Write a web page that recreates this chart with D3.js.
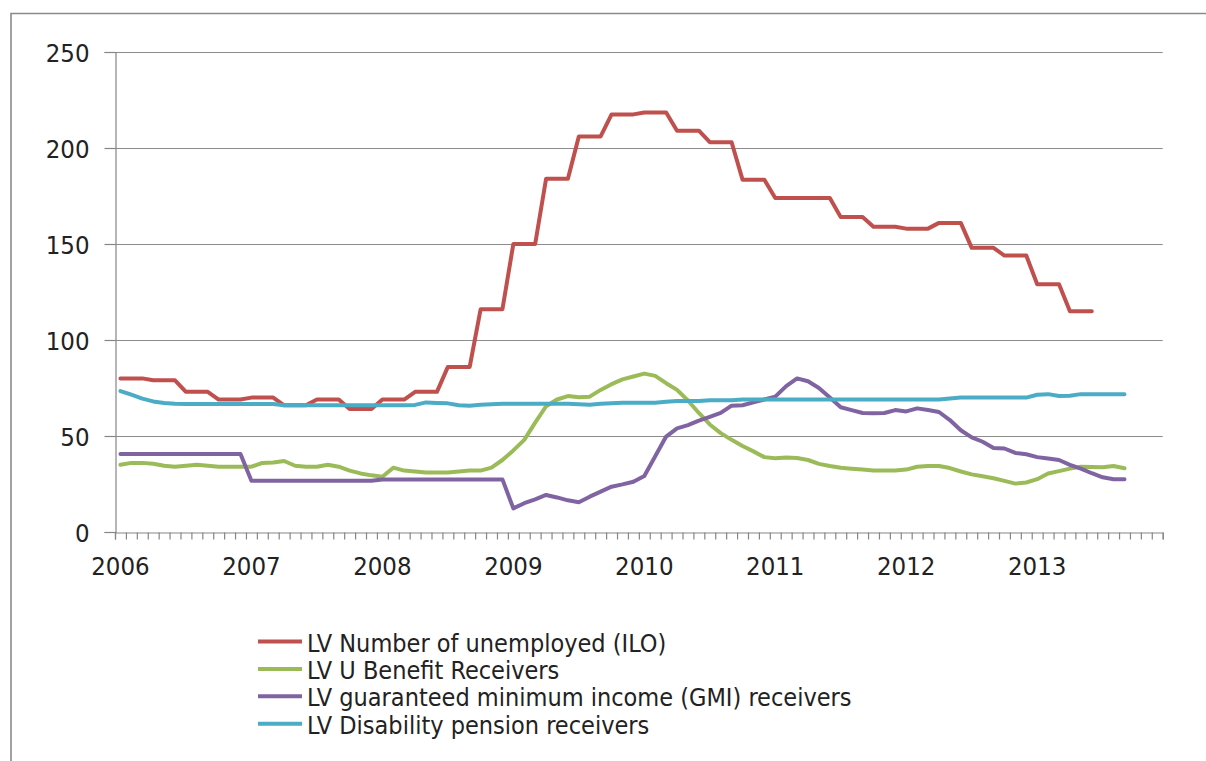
<!DOCTYPE html>
<html>
<head>
<meta charset="utf-8">
<script src="https://cdn.jsdelivr.net/npm/d3@7"></script>
<style>
  html, body { margin: 0; padding: 0; background: #fff; }
  svg { display: block; }
  text { font-family: "Liberation Sans Narrow", "DejaVu Sans Condensed", "Open Sans", sans-serif; fill: #222; }
</style>
</head>
<body>
<svg id="chart" width="1206" height="761"></svg>
<script>
// ---------- DATA ----------
const years = ["2006", "2007", "2008", "2009", "2010", "2011", "2012", "2013"];
const monthsPerYear = ["01","02","03","04","05","06","07","08","09","10","11","12"];
const tickLabels = ["2006", "2007", "2008", "2009", "2010", "2011", "2012", "2013"];
const yTicks = [0, 50, 100, 150, 200, 250];

const seriesNames = [
  "LV Number of unemployed (ILO)",
  "LV U Benefit Receivers",
  "LV guaranteed minimum income (GMI) receivers",
  "LV Disability pension receivers"
];
const seriesColors = ["#C0504D", "#9BBB59", "#8064A2", "#4BACC6"];

const unemployedILO = [
  80,80,80, 79,79,79, 73,73,73, 69,69,69,
  70,70,70, 66,66,66, 69,69,69, 64,64,64,
  69,69,69, 73,73,73, 86,86,86, 116,116,116,
  150,150,150, 184,184,184, 206,206,206, 217.5,217.5,217.5,
  218.5,218.5,218.5, 209,209,209, 203,203,203, 183.5,183.5,183.5,
  174,174,174, 174,174,174, 164,164,164, 159,159,159,
  158,158,158, 161,161,161, 148,148,148, 144,144,144,
  129,129,129, 115,115,115
];
const benefitReceivers = [
  35, 36, 36, 35.5, 34.5, 34, 34.5, 35, 34.5, 34, 34, 34,
  34, 36, 36.2, 37, 34.5, 34, 34, 35, 34, 32, 30.5, 29.5,
  28.8, 33.5, 32, 31.5, 31, 31, 31, 31.5, 32, 32, 33.5, 37.5,
  42.5, 48, 57, 65.5, 69, 70.8, 70.2, 70.5, 74, 77, 79.5, 81,
  82.5, 81.3, 77.5, 74, 68.5, 62, 56, 51.5, 48, 44.8, 42, 39,
  38.4, 38.8, 38.5, 37.5, 35.5, 34.4, 33.5, 33, 32.5, 32, 32, 32,
  32.5, 34, 34.4, 34.4, 33.3, 31.5, 30, 29, 28, 26.6, 25.2, 25.8,
  27.5, 30.5, 31.7, 33, 34, 33.8, 33.7, 34.4, 33.2
];
const gmiReceivers = [
  40.6, 40.6, 40.6, 40.6, 40.6, 40.6, 40.6, 40.6, 40.6, 40.6, 40.6, 40.6,
  26.7, 26.7, 26.7, 26.7, 26.7, 26.7, 26.7, 26.7, 26.7, 26.7, 26.7, 26.7,
  27.4, 27.4, 27.4, 27.4, 27.4, 27.4, 27.4, 27.4, 27.4, 27.4, 27.4, 27.4,
  12.3, 15, 17, 19.3, 18, 16.5, 15.5, 18.4, 21, 23.6, 24.8, 26.2,
  29.2, 39.5, 49.7, 54, 55.7, 58, 60, 62, 65.8, 66, 67.5, 69,
  70.5, 76, 80, 78.5, 75, 70, 65, 63.5, 62, 61.8, 62, 63.5,
  62.8, 64.4, 63.5, 62.5, 58.3, 53, 49.3, 47, 43.8, 43.5, 41.2, 40.5,
  39, 38.3, 37.5, 35, 33, 30.6, 28.5, 27.5, 27.5
];
const disabilityPension = [
  73.4, 71.5, 69.5, 68, 67.2, 66.8, 66.7, 66.7, 66.7, 66.7, 66.7, 66.7,
  66.7, 66.7, 66.7, 66, 66, 66, 66, 66, 66, 66, 66, 66,
  66, 66, 66, 66.2, 67.5, 67.2, 67, 66, 65.8, 66.3, 66.5, 66.8,
  66.8, 66.8, 66.8, 66.8, 66.8, 66.8, 66.5, 66.3, 66.8, 67, 67.3, 67.3,
  67.3, 67.3, 67.8, 68.2, 68.2, 68.2, 68.6, 68.6, 68.6, 69, 69, 69,
  69, 69, 69, 69, 69, 69, 69, 69, 69, 69, 69, 69,
  69, 69, 69, 69, 69.5, 70, 70, 70, 70, 70, 70, 70,
  71.5, 71.8, 70.8, 71, 71.8, 71.8, 71.8, 71.8, 71.8
];

// ---------- LAYOUT ----------
const categories = [];
years.forEach(yr => monthsPerYear.forEach(m => categories.push(yr + "-" + m)));

const svg = d3.select("#chart");
const plotLeft = 115, plotRight = 1162.7, plotTop = 52, plotBottom = 532;

// border (left + top only visible)
svg.append("path")
  .attr("d", `M11,761 L11,13.5 L1206,13.5`)
  .attr("fill", "none").attr("stroke", "#8a8a8a").attr("stroke-width", 1.6);

const x = d3.scaleBand().domain(categories).range([plotLeft, plotRight]).paddingInner(0).paddingOuter(0);
const xIdx = d3.scaleLinear().domain([0, categories.length]).range([plotLeft, plotRight]);
const y = d3.scaleLinear().domain([0, 250]).range([plotBottom, plotTop]);

// gridlines
svg.append("g")
  .selectAll("line")
  .data(yTicks.filter(t => t > 0))
  .join("line")
  .attr("x1", plotLeft).attr("x2", plotRight)
  .attr("y1", d => Math.round(y(d)) + 0.5).attr("y2", d => Math.round(y(d)) + 0.5)
  .attr("stroke", "#8c8c8c").attr("stroke-width", 1.2);

// y axis
const yAxis = svg.append("g")
  .attr("transform", `translate(${plotLeft + 0.5},0)`)
  .call(d3.axisLeft(y).tickValues(yTicks).tickSize(11).tickPadding(15).tickFormat(d3.format("d")));
yAxis.attr("font-family", null).attr("font-size", null);
yAxis.select(".domain").attr("stroke", "#868686").attr("stroke-width", 1.2);
yAxis.selectAll(".tick line").attr("stroke", "#868686").attr("stroke-width", 1.2);
yAxis.selectAll(".tick text").attr("font-size", 25.5).attr("fill", "#222").attr("dy", "0.36em");

// x axis with monthly ticks
const xAxis = svg.append("g")
  .attr("transform", `translate(0,${plotBottom + 0.5})`)
  .call(d3.axisBottom(xIdx).tickValues(d3.range(categories.length + 1)).tickSize(7).tickFormat(""));
xAxis.select(".domain").attr("stroke", "#868686").attr("stroke-width", 1.2);
xAxis.selectAll(".tick line").attr("stroke", "#868686").attr("stroke-width", 1.2);

// year labels
svg.append("g")
  .selectAll("text")
  .data(tickLabels)
  .join("text")
  .attr("x", d => x(d + "-01") + x.bandwidth() / 2)
  .attr("y", 575)
  .attr("text-anchor", "middle")
  .attr("font-size", 25.5)
  .text(d => d);

// lines
const allSeries = [unemployedILO, benefitReceivers, gmiReceivers, disabilityPension];
const line = d3.line()
  .x((d, i) => x(categories[i]) + x.bandwidth() / 2)
  .y(d => y(d));

allSeries.forEach((s, k) => {
  svg.append("path")
    .datum(s)
    .attr("d", line)
    .attr("fill", "none")
    .attr("stroke", seriesColors[k])
    .attr("stroke-width", 4)
    .attr("stroke-linejoin", "round")
    .attr("stroke-linecap", "round");
});

// legend
const legend = svg.append("g");
seriesNames.forEach((name, k) => {
  const cy = 641.5 + k * 27.4;
  legend.append("line")
    .attr("x1", 258).attr("x2", 302)
    .attr("y1", cy).attr("y2", cy)
    .attr("stroke", seriesColors[k]).attr("stroke-width", 4);
  legend.append("text")
    .attr("x", 307).attr("y", cy + 10)
    .attr("font-size", 25)
    .text(name);
});
</script>
</body>
</html>
